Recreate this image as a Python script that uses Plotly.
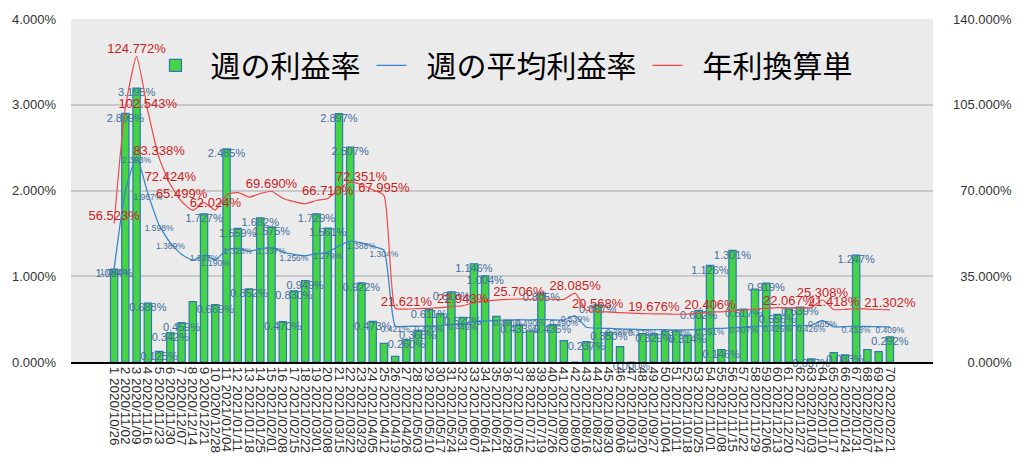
import plotly.graph_objects as go

weeks = [
    "1 2020/10/26", "2 2020/11/02", "3 2020/11/09", "4 2020/11/16", "5 2020/11/23",
    "6 2020/11/30", "7 2020/12/07", "8 2020/12/14", "9 2020/12/21", "10 2020/12/28",
    "11 2021/01/04", "12 2021/01/11", "13 2021/01/18", "14 2021/01/25", "15 2021/02/01",
    "16 2021/02/08", "17 2021/02/15", "18 2021/02/22", "19 2021/03/01", "20 2021/03/08",
    "21 2021/03/15", "22 2021/03/22", "23 2021/03/29", "24 2021/04/05", "25 2021/04/12",
    "26 2021/04/19", "27 2021/04/26", "28 2021/05/03", "29 2021/05/10", "30 2021/05/17",
    "31 2021/05/24", "32 2021/05/31", "33 2021/06/07", "34 2021/06/14", "35 2021/06/21",
    "36 2021/06/28", "37 2021/07/05", "38 2021/07/12", "39 2021/07/19", "40 2021/07/26",
    "41 2021/08/02", "42 2021/08/09", "43 2021/08/16", "44 2021/08/23", "45 2021/08/30",
    "46 2021/09/06", "47 2021/09/13", "48 2021/09/20", "49 2021/09/27", "50 2021/10/04",
    "51 2021/10/11", "52 2021/10/18", "53 2021/10/25", "54 2021/11/01", "55 2021/11/08",
    "56 2021/11/15", "57 2021/11/22", "58 2021/11/29", "59 2021/12/06", "60 2021/12/13",
    "61 2021/12/20", "62 2021/12/27", "63 2022/01/03", "64 2022/01/10", "65 2022/01/17",
    "66 2022/01/24", "67 2022/01/31", "68 2022/02/07", "69 2022/02/14", "70 2022/02/21",
]

weekly_rate = [
    1.084, 2.899, 3.195, 0.688, 0.125, 0.342, 0.459, 0.704, 1.727, 0.669,
    2.485, 1.559, 0.852, 1.682, 1.575, 0.470, 0.830, 0.949, 1.729, 1.561,
    2.897, 2.507, 0.922, 0.473, 0.217, 0.065, 0.260, 0.368, 0.611, 0.562,
    0.818, 0.522, 1.146, 1.004, 0.531, 0.485, 0.433, 0.362, 0.805, 0.436,
    0.250, 0.000, 0.237, 0.667, 0.350, 0.180, 0.000, 0.330, 0.329, 0.360,
    0.360, 0.314, 0.602, 1.126, 0.146, 1.301, 0.617, 0.850, 0.919, 0.556,
    0.620, 0.639, 0.037, 0.000, 0.110, 0.083, 1.247, 0.146, 0.120, 0.292,
]

avg_rate = [
    1.084, 1.992, 2.393, 1.967, 1.598, 1.389, 1.256, 1.187, 1.247, 1.190,
    1.307, 1.328, 1.291, 1.319, 1.337, 1.282, 1.256, 1.239, 1.264, 1.279,
    1.356, 1.409, 1.388, 1.349, 1.304, 0.421, 0.415, 0.418, 0.420, 0.425,
    0.435, 0.446, 0.465, 0.478, 0.485, 0.490, 0.493, 0.490, 0.497, 0.490,
    0.490, 0.539, 0.405, 0.394, 0.392, 0.386, 0.382, 0.378, 0.377, 0.376,
    0.374, 0.375, 0.380, 0.391, 0.393, 0.400, 0.407, 0.415, 0.420, 0.425,
    0.423, 0.424, 0.426, 0.485, 0.411, 0.412, 0.418, 0.414, 0.411, 0.409,
]

annual_rate = [
    56.523, 103.87, 124.772, 102.543, 83.338, 72.424, 65.499, 61.89, 65.02, 62.024,
    68.15, 69.25, 67.32, 68.78, 69.690, 66.85, 65.49, 64.61, 65.93, 66.710,
    70.71, 73.47, 72.351, 70.34, 67.995, 21.95, 21.621, 21.80, 21.90, 22.16,
    22.68, 22.943, 24.25, 24.92, 25.29, 25.55, 25.706, 25.55, 25.92, 25.55,
    25.55, 28.085, 21.12, 20.568, 20.44, 20.13, 19.92, 19.71, 19.676, 19.61,
    19.50, 19.55, 19.81, 20.406, 20.49, 20.86, 21.22, 21.64, 21.90, 22.16,
    22.067, 22.11, 22.21, 25.308, 21.418, 21.48, 21.80, 21.59, 21.43, 21.302,
]

left_ticks = [0, 1, 2, 3, 4]
left_tick_text = ["0.000%", "1.000%", "2.000%", "3.000%", "4.000%"]
right_ticks = [0, 35, 70, 105, 140]
right_tick_text = ["\u2007\u20070.000%", "\u200735.000%", "\u200770.000%", "105.000%", "140.000%"]

# which points carry a data label (week numbers)
bar_label_weeks = [1, 2, 3, 4, 5, 6, 7, 9, 10, 11, 12, 13, 14, 15, 16, 17, 18, 19, 20,
                   21, 22, 23, 24, 27, 28, 29, 31, 32, 33, 34, 37, 39, 40, 43, 44, 45,
                   47, 49, 52, 53, 54, 55, 56, 57, 59, 60, 62, 63, 66, 67, 70]
avg_label_weeks = [1, 3, 4, 5, 6, 9, 10, 12, 15, 17, 20, 23, 25, 26, 29, 32, 36, 38,
                   41, 42, 46, 48, 51, 54, 57, 60, 63, 64, 67, 70]
annual_label_weeks = [1, 3, 4, 5, 6, 7, 10, 15, 20, 23, 25, 27, 32, 37, 42, 44, 49,
                      54, 61, 64, 65, 70]

def labels(values, keep):
    return [f"{v:.3f}%" if (i + 1) in keep else "" for i, v in enumerate(values)]

NUM_FONT = "Liberation Sans, Arial, sans-serif"
BLUE_TXT = "#3f6f9d"
LEAD = "\u2002"
TRAIL = "\u2009"

fig = go.Figure()
fig.add_trace(go.Bar(
    x=weeks, y=weekly_rate, name=LEAD + "週の利益率" + TRAIL,
    marker=dict(color="#44d444", line=dict(color="#2f78b4", width=1.2)),
))
fig.add_trace(go.Scatter(
    x=weeks, y=avg_rate, name=LEAD + "週の平均利益率" + TRAIL, mode="lines",
    line=dict(color="#3a87c8", width=1.3, shape="spline", smoothing=0.5),
))
fig.add_trace(go.Scatter(
    x=weeks, y=annual_rate, name=LEAD + "年利換算単", mode="lines", yaxis="y2",
    line=dict(color="#f04848", width=1.2, shape="spline", smoothing=0.5),
))
# data labels
fig.add_trace(go.Scatter(
    x=weeks, y=weekly_rate, mode="text", text=labels(weekly_rate, bar_label_weeks),
    textposition="bottom center", showlegend=False, cliponaxis=False,
    textfont=dict(size=11, color=BLUE_TXT, family=NUM_FONT), hoverinfo="skip",
))
fig.add_trace(go.Scatter(
    x=weeks, y=avg_rate, mode="text", text=labels(avg_rate, avg_label_weeks),
    textposition="bottom center", showlegend=False, cliponaxis=False,
    textfont=dict(size=8.5, color=BLUE_TXT, family=NUM_FONT), hoverinfo="skip",
))
fig.add_trace(go.Scatter(
    x=weeks, y=annual_rate, mode="text", yaxis="y2",
    text=labels(annual_rate, annual_label_weeks),
    textposition="top center", showlegend=False, cliponaxis=False,
    textfont=dict(size=13, color="#cc2222", family=NUM_FONT), hoverinfo="skip",
))

fig.update_layout(
    width=1024, height=474,
    margin=dict(l=70, r=87, t=15, b=112),
    paper_bgcolor="white", plot_bgcolor="#ebebeb",
    bargap=0.35,
    font=dict(family=NUM_FONT, color="#333333"),
    xaxis=dict(
        type="category", tickmode="array", tickvals=weeks, ticktext=weeks,
        tickangle=90, tickfont=dict(size=13.5, color="#2a2a2a"),
        showline=True, linecolor="black", linewidth=2, ticks="", showgrid=False,
    ),
    yaxis=dict(
        range=[0, 4], tickmode="array", tickvals=left_ticks, ticktext=left_tick_text,
        gridcolor="#c8c8c8", gridwidth=1.5, zeroline=False,
        tickfont=dict(size=13, color="#333333"), ticklabelstandoff=14,
    ),
    yaxis2=dict(
        range=[0, 140], tickmode="array", tickvals=right_ticks, ticktext=right_tick_text,
        overlaying="y", side="right", showgrid=False, zeroline=False,
        tickfont=dict(size=13, color="#333333"), ticklabelstandoff=19,
    ),
    legend=dict(
        orientation="h", x=0.098, xanchor="left", y=0.865, yanchor="middle",
        font=dict(size=30, family="Noto Sans CJK JP", color="black"),
        bgcolor="rgba(0,0,0,0)",
    ),
    showlegend=True,
)

fig.write_html("out.html")
